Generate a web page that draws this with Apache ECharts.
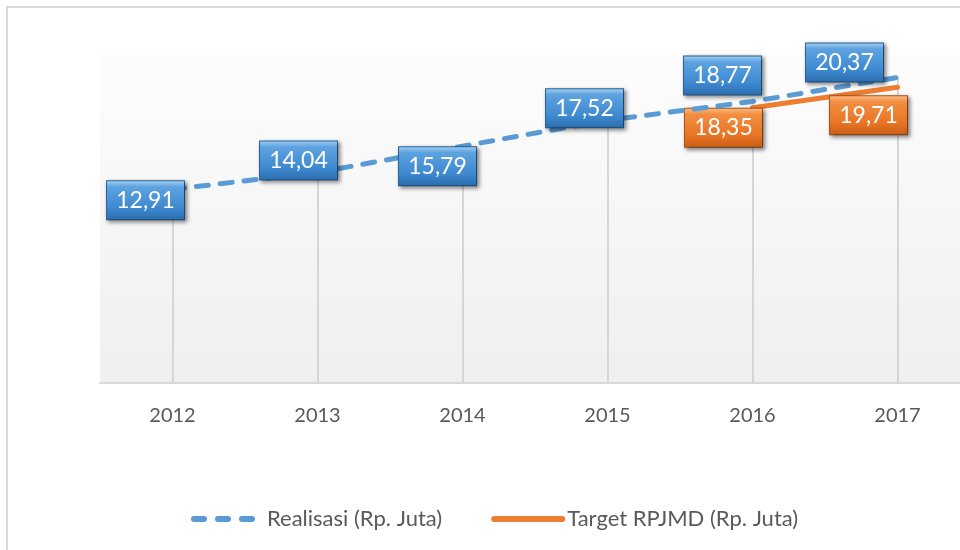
<!DOCTYPE html>
<html lang="id">

<head>
    <meta charset="UTF-8">
    <title>Realisasi vs Target RPJMD</title>
    <script src="https://cdn.jsdelivr.net/npm/echarts@6/dist/echarts.min.js"></script>
    <style>
        body,
        html {
            margin: 0;
            padding: 0;
            background: #fff;
        }

        #main {
            width: 960px;
            height: 550px;
        }
    </style>
</head>

<body>
    <div id="main"></div>
    <script>
        var years = ['2012', '2013', '2014', '2015', '2016', '2017'];
        var realisasi = [12.91, 14.04, 15.79, 17.52, 18.77, 20.37];
        var target = [null, null, null, null, 18.35, 19.71];

        // label box shifts relative to each point (dx, dy)
        var realOffsets = [[-27, 11], [-19, -12], [-25, 20], [-23, -12], [-30, -26], [-53, -15]];
        var targetOffsets = [null, null, null, null, [-29, 20], [-29, 28]];

        var fontName = 'Lato, "Open Sans", sans-serif';

        function vGrad(stops) {
            return {
                type: 'linear', x: 0, y: 0, x2: 0, y2: 1,
                colorStops: stops
            };
        }

        function boxLabel(c1, c2, c3, c4, border) {
            return {
                show: true,
                position: 'inside',
                color: '#fff',
                fontSize: 23,
                fontFamily: fontName,
                width: 77,
                height: 38,
                lineHeight: 38,
                align: 'center',
                verticalAlign: 'middle',
                backgroundColor: vGrad([
                    { offset: 0, color: c1 },
                    { offset: 0.16, color: c2 },
                    { offset: 0.7, color: c3 },
                    { offset: 1, color: c4 }
                ]),
                borderColor: border,
                borderWidth: 1,
                shadowBlur: 4,
                shadowColor: 'rgba(0,0,0,0.45)',
                shadowOffsetX: 2,
                shadowOffsetY: 2,
                formatter: function (p) {
                    return p.value.toFixed(2).replace('.', ',');
                }
            };
        }

        var blueLabel = boxLabel('#a8d2f3', '#5ea3e1', '#3d88cf', '#2b6dad', '#2b68a0');
        var orangeLabel = boxLabel('#fcc08a', '#f28e42', '#e87424', '#c65d16', '#b5561a');

        var realData = [];
        var targetData = [];
        var drops = [];
        for (var i = 0; i < years.length; i++) {
            realData.push({ value: realisasi[i], label: { offset: realOffsets[i] } });
            if (target[i] == null) {
                targetData.push(null);
            } else {
                targetData.push({ value: target[i], label: { offset: targetOffsets[i] } });
            }
            var peak = Math.max(realisasi[i], target[i] || 0);
            drops.push([{ coord: [i, peak] }, { coord: [i, 0] }]);
        }

        var myChart = echarts.init(document.getElementById('main'));
        var option = {
            animation: false,
            backgroundColor: '#fff',
            graphic: [{
                type: 'rect',
                shape: { x: 7, y: 7, width: 1000, height: 600 },
                style: { fill: 'none', stroke: '#d9d9d9', lineWidth: 2 },
                silent: true
            }],
            grid: {
                left: 100,
                width: 870,
                top: 50,
                bottom: 167,
                outerBoundsMode: 'none',
                containLabel: false,
                show: true,
                borderWidth: 0,
                backgroundColor: vGrad([
                    { offset: 0, color: '#fdfdfd' },
                    { offset: 1, color: '#efefef' }
                ])
            },
            legend: {
                left: 186,
                top: 503,
                itemWidth: 68,
                itemHeight: 14,
                itemGap: 49,
                itemStyle: { opacity: 0 },
                textStyle: {
                    fontSize: 22,
                    fontFamily: fontName,
                    color: '#595959'
                },
                data: [
                    {
                        name: 'Realisasi (Rp. Juta)',
                        lineStyle: { width: 6, type: [10, 14], cap: 'round' }
                    },
                    {
                        name: 'Target RPJMD (Rp. Juta)',
                        lineStyle: { width: 6, cap: 'round' }
                    }
                ]
            },
            xAxis: {
                type: 'category',
                data: years,
                axisLine: { lineStyle: { color: '#d9d9d9', width: 2 } },
                axisTick: { show: false },
                axisLabel: {
                    margin: 23,
                    fontSize: 20,
                    fontFamily: fontName,
                    color: '#595959'
                },
                splitLine: { show: false }
            },
            yAxis: {
                type: 'value',
                min: 0,
                max: 22.2,
                show: false,
                splitLine: { show: false }
            },
            series: [
                {
                    name: 'Target RPJMD (Rp. Juta)',
                    type: 'line',
                    data: targetData,
                    symbol: 'circle',
                    symbolSize: 2,
                    showSymbol: true,
                    lineStyle: { color: '#ed7d31', width: 5, cap: 'round' },
                    itemStyle: { color: '#ed7d31' },
                    label: orangeLabel,
                    z: 3
                },
                {
                    name: 'Realisasi (Rp. Juta)',
                    type: 'line',
                    data: realData,
                    symbol: 'circle',
                    symbolSize: 2,
                    showSymbol: true,
                    lineStyle: { color: '#5b9bd5', width: 5, type: [12, 12], cap: 'round' },
                    itemStyle: { color: '#5b9bd5' },
                    label: blueLabel,
                    markLine: {
                        silent: true,
                        symbol: 'none',
                        label: { show: false },
                        lineStyle: { color: '#d6d6d6', width: 2, type: 'solid' },
                        data: drops,
                        z: 1
                    },
                    z: 4
                }
            ]
        };
        myChart.setOption(option);
    </script>
</body>

</html>
